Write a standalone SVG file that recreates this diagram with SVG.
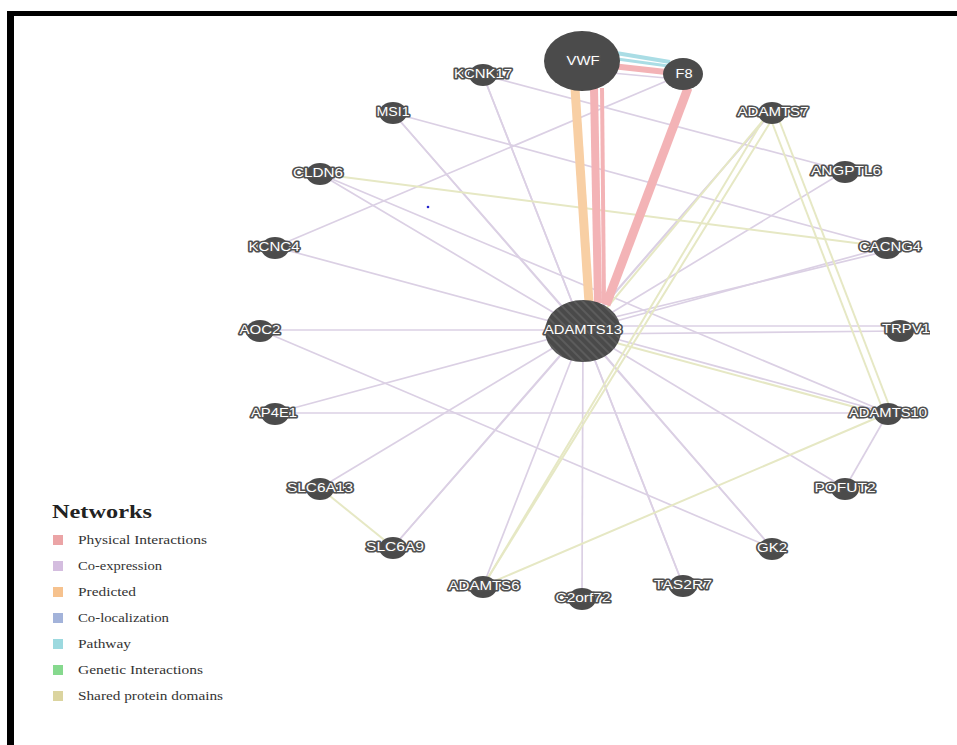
<svg xmlns="http://www.w3.org/2000/svg" width="957" height="745" viewBox="0 0 957 745">
  <style>
    .coexp { stroke: #dbd0e4; stroke-width: 1.7; fill: none; }
    .shared { stroke: #e6e8c4; stroke-width: 2; fill: none; }
    .phys { stroke: #f3b3b6; fill: none; stroke-linecap: butt; }
    .pred { stroke: #f8cfa4; fill: none; }
    .path { stroke: #aadde5; fill: none; }
    .node { fill: #4b4b4b; }
    .lbl { font-family: "Liberation Sans", Arial, sans-serif; font-size: 13.5px; fill: #ffffff; stroke: #505050; stroke-width: 3.2; paint-order: stroke; stroke-linejoin: round; text-anchor: middle; dominant-baseline: central; }
    .lg { font-family: "Liberation Serif", "Times New Roman", serif; font-size: 12px; fill: #333333; }
    .lgt { font-family: "Liberation Serif", "Times New Roman", serif; font-size: 18px; font-weight: bold; fill: #222222; }
  </style>
  <defs>
    <pattern id="hatch" patternUnits="userSpaceOnUse" width="6" height="6" patternTransform="rotate(-45)">
      <rect width="6" height="6" fill="#4a4a4a"/>
      <rect width="2" height="6" fill="#5c5c5c"/>
    </pattern>
    <clipPath id="graphClip">
      <rect x="14" y="16" width="916" height="729"/>
    </clipPath>
  </defs>

  <rect width="957" height="745" fill="#ffffff"/>

  <!-- frame -->
  <rect x="7" y="11" width="950" height="5" fill="#000000"/>
  <rect x="7" y="11" width="7" height="734" fill="#000000"/>

  <g clip-path="url(#graphClip)">
    <!-- connectors -->
    <g id="edges">
      <!-- co-expression -->
      <line class="coexp" x1="483" y1="75" x2="583" y2="330"/>
      <line class="coexp" x1="483" y1="75" x2="845" y2="171"/>
      <line class="coexp" x1="483" y1="75" x2="683" y2="585"/>
      <line class="coexp" x1="393" y1="113" x2="583" y2="330"/>
      <line class="coexp" x1="393" y1="113" x2="887" y2="247"/>
      <line class="coexp" x1="393" y1="113" x2="772" y2="548"/>
      <line class="coexp" x1="320" y1="174" x2="583" y2="330"/>
      <line class="coexp" x1="320" y1="174" x2="888" y2="413"/>
      <line class="coexp" x1="275" y1="247" x2="683" y2="74"/>
      <line class="coexp" x1="275" y1="247" x2="583" y2="330"/>
      <line class="coexp" x1="260" y1="330" x2="583" y2="330"/>
      <line class="coexp" x1="260" y1="330" x2="772" y2="548"/>
      <line class="coexp" x1="275" y1="413" x2="888" y2="413"/>
      <line class="coexp" x1="275" y1="413" x2="583" y2="330"/>
      <line class="coexp" x1="320" y1="488" x2="583" y2="330"/>
      <line class="coexp" x1="393" y1="547" x2="583" y2="330"/>
      <line class="coexp" x1="393" y1="547" x2="772" y2="112"/>
      <line class="coexp" x1="483" y1="586" x2="583" y2="330"/>
      <line class="coexp" x1="582" y1="598" x2="583" y2="330"/>
      <line class="coexp" x1="683" y1="585" x2="583" y2="330"/>
      <line class="coexp" x1="772" y1="548" x2="583" y2="330"/>
      <line class="coexp" x1="845" y1="488" x2="583" y2="330"/>
      <line class="coexp" x1="845" y1="488" x2="888" y2="413"/>
      <line class="coexp" x1="888" y1="413" x2="583" y2="330"/>
      <line class="coexp" x1="900" y1="326" x2="583" y2="326"/>
      <line class="coexp" x1="900" y1="331" x2="583" y2="334"/>
      <line class="coexp" x1="887" y1="247" x2="583" y2="330"/>
      <line class="coexp" x1="887" y1="251" x2="590" y2="323"/>
      <line class="coexp" x1="845" y1="171" x2="583" y2="330"/>
      <line class="coexp" x1="772" y1="112" x2="583" y2="330"/>

      <!-- shared protein domains -->
      <line class="shared" x1="320" y1="174" x2="887" y2="247"/>
      <line class="shared" x1="320" y1="488" x2="393" y2="547"/>
      <line class="shared" x1="483" y1="586" x2="768" y2="112"/>
      <line class="shared" x1="483" y1="586" x2="776" y2="113"/>
      <line class="shared" x1="483" y1="586" x2="888" y2="413"/>
      <line class="shared" x1="590" y1="328" x2="770" y2="112"/>
      <line class="shared" x1="768" y1="112" x2="884" y2="413"/>
      <line class="shared" x1="776" y1="112" x2="892" y2="413"/>
      <line class="shared" x1="583" y1="334" x2="888" y2="416"/>

      <!-- VWF - F8 bundle -->
      <line class="path" x1="610" y1="52" x2="670" y2="62" stroke-width="4"/>
      <line class="path" x1="610" y1="58" x2="668" y2="66" stroke-width="3"/>
      <line class="phys" x1="612" y1="66" x2="666" y2="72" stroke-width="6" stroke="#d6aab2"/>
      <line class="coexp" x1="612" y1="73" x2="666" y2="78" stroke-width="5" stroke="#c9bcc6"/>
      <!-- F8 - ADAMTS13 -->
      <line class="phys" x1="688" y1="88" x2="606" y2="305" stroke-width="9"/>
      <!-- VWF - ADAMTS13 -->
      <line class="pred" x1="575" y1="88" x2="589" y2="303" stroke-width="9"/>
      <line class="phys" x1="594" y1="88" x2="598" y2="303" stroke-width="8"/>
      <line class="phys" x1="602" y1="88" x2="604" y2="303" stroke-width="4"/>
    </g>

    <!-- stray mark -->
    <circle cx="428" cy="207" r="1.3" fill="#2222cc"/>

    <!-- nodes -->
    <g id="VWF"><ellipse class="node" cx="582" cy="61" rx="38" ry="30"/><text class="lbl" x="583" y="60" textLength="33" lengthAdjust="spacingAndGlyphs">VWF</text></g>
    <g id="F8"><ellipse class="node" cx="683" cy="74" rx="20" ry="16"/><text class="lbl" x="684" y="73" textLength="17" lengthAdjust="spacingAndGlyphs">F8</text></g>
    <g id="ADAMTS13"><ellipse cx="583" cy="331" rx="38" ry="31" fill="url(#hatch)"/><text class="lbl" x="583" y="329" textLength="78" lengthAdjust="spacingAndGlyphs">ADAMTS13</text></g>
    <g id="KCNK17"><ellipse class="node" cx="483" cy="75" rx="14" ry="11"/><text class="lbl" x="483" y="73" textLength="58" lengthAdjust="spacingAndGlyphs">KCNK17</text></g>
    <g id="MSI1"><ellipse class="node" cx="393" cy="113" rx="14" ry="11"/><text class="lbl" x="393" y="111" textLength="33" lengthAdjust="spacingAndGlyphs">MSI1</text></g>
    <g id="CLDN6"><ellipse class="node" cx="320" cy="174" rx="14" ry="11"/><text class="lbl" x="318" y="172" textLength="50" lengthAdjust="spacingAndGlyphs">CLDN6</text></g>
    <g id="KCNC4"><ellipse class="node" cx="275" cy="248" rx="14" ry="11"/><text class="lbl" x="274" y="246" textLength="51" lengthAdjust="spacingAndGlyphs">KCNC4</text></g>
    <g id="AOC2"><ellipse class="node" cx="260" cy="331" rx="14" ry="11"/><text class="lbl" x="260" y="329" textLength="41" lengthAdjust="spacingAndGlyphs">AOC2</text></g>
    <g id="AP4E1"><ellipse class="node" cx="275" cy="414" rx="14" ry="11"/><text class="lbl" x="274" y="412" textLength="46" lengthAdjust="spacingAndGlyphs">AP4E1</text></g>
    <g id="SLC6A13"><ellipse class="node" cx="320" cy="489" rx="14" ry="11"/><text class="lbl" x="320" y="487" textLength="66" lengthAdjust="spacingAndGlyphs">SLC6A13</text></g>
    <g id="SLC6A9"><ellipse class="node" cx="393" cy="548" rx="14" ry="11"/><text class="lbl" x="395" y="546" textLength="58" lengthAdjust="spacingAndGlyphs">SLC6A9</text></g>
    <g id="ADAMTS6"><ellipse class="node" cx="483" cy="587" rx="14" ry="11"/><text class="lbl" x="484" y="585" textLength="71" lengthAdjust="spacingAndGlyphs">ADAMTS6</text></g>
    <g id="C2orf72"><ellipse class="node" cx="582" cy="599" rx="14" ry="11"/><text class="lbl" x="583" y="597" textLength="55" lengthAdjust="spacingAndGlyphs">C2orf72</text></g>
    <g id="TAS2R7"><ellipse class="node" cx="683" cy="586" rx="14" ry="11"/><text class="lbl" x="683" y="584" textLength="58" lengthAdjust="spacingAndGlyphs">TAS2R7</text></g>
    <g id="GK2"><ellipse class="node" cx="772" cy="549" rx="14" ry="11"/><text class="lbl" x="772" y="547" textLength="30" lengthAdjust="spacingAndGlyphs">GK2</text></g>
    <g id="POFUT2"><ellipse class="node" cx="845" cy="489" rx="14" ry="11"/><text class="lbl" x="845" y="487" textLength="61" lengthAdjust="spacingAndGlyphs">POFUT2</text></g>
    <g id="ADAMTS10"><ellipse class="node" cx="888" cy="414" rx="14" ry="11"/><text class="lbl" x="888" y="412" textLength="78" lengthAdjust="spacingAndGlyphs">ADAMTS10</text></g>
    <g id="TRPV1"><ellipse class="node" cx="900" cy="331" rx="14" ry="11"/><text class="lbl" x="906" y="328" textLength="48" lengthAdjust="spacingAndGlyphs">TRPV1</text></g>
    <g id="CACNG4"><ellipse class="node" cx="887" cy="248" rx="14" ry="11"/><text class="lbl" x="890" y="246" textLength="62" lengthAdjust="spacingAndGlyphs">CACNG4</text></g>
    <g id="ANGPTL6"><ellipse class="node" cx="845" cy="172" rx="14" ry="11"/><text class="lbl" x="846" y="170" textLength="70" lengthAdjust="spacingAndGlyphs">ANGPTL6</text></g>
    <g id="ADAMTS7"><ellipse class="node" cx="772" cy="113" rx="14" ry="11"/><text class="lbl" x="773" y="111" textLength="71" lengthAdjust="spacingAndGlyphs">ADAMTS7</text></g>
  </g>

  <!-- legend -->
  <g id="legend">
    <text class="lgt" x="52" y="518" textLength="100" lengthAdjust="spacingAndGlyphs">Networks</text>
    <rect x="53" y="535" width="10" height="10" fill="#eba4a6"/>
    <text class="lg" x="78" y="544" textLength="129" lengthAdjust="spacingAndGlyphs">Physical Interactions</text>
    <rect x="53" y="561" width="10" height="10" fill="#d4bddf"/>
    <text class="lg" x="78" y="570" textLength="84" lengthAdjust="spacingAndGlyphs">Co-expression</text>
    <rect x="53" y="587" width="10" height="10" fill="#f6c28e"/>
    <text class="lg" x="78" y="596" textLength="58" lengthAdjust="spacingAndGlyphs">Predicted</text>
    <rect x="53" y="613" width="10" height="10" fill="#a3b3da"/>
    <text class="lg" x="78" y="622" textLength="91" lengthAdjust="spacingAndGlyphs">Co-localization</text>
    <rect x="53" y="639" width="10" height="10" fill="#9cd9df"/>
    <text class="lg" x="78" y="648" textLength="53" lengthAdjust="spacingAndGlyphs">Pathway</text>
    <rect x="53" y="665" width="10" height="10" fill="#86d98e"/>
    <text class="lg" x="78" y="674" textLength="125" lengthAdjust="spacingAndGlyphs">Genetic Interactions</text>
    <rect x="53" y="691" width="10" height="10" fill="#dbd49f"/>
    <text class="lg" x="78" y="700" textLength="145" lengthAdjust="spacingAndGlyphs">Shared protein domains</text>
  </g>
</svg>
